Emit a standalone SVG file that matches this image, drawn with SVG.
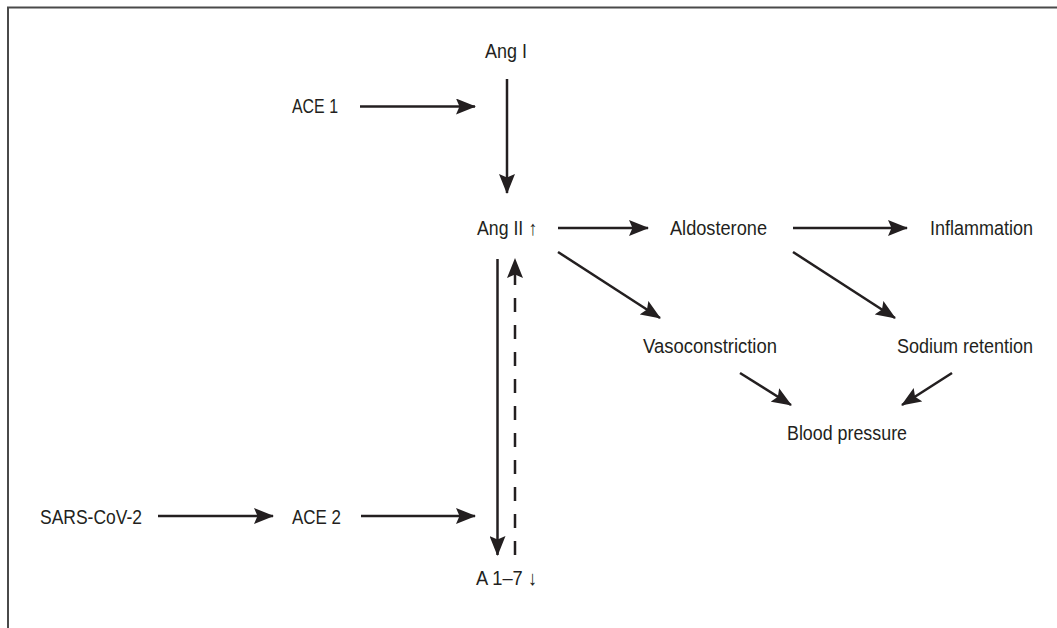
<svg xmlns="http://www.w3.org/2000/svg" width="1057" height="628" viewBox="0 0 1057 628">
  <defs>
    <marker id="ah" markerUnits="userSpaceOnUse" markerWidth="20" markerHeight="16" viewBox="0 0 20 16" refX="19" refY="8" orient="auto">
      <path d="M0,0 L20,8 L0,16 L3.5,8 Z" fill="#231f20"/>
    </marker>
    <style>
      .lbl { font-family: "Liberation Sans", Arial, sans-serif; font-size: 20.5px; fill: #231f20; }
      .cn { stroke: #231f20; stroke-width: 2.5; fill: none; marker-end: url(#ah); }
      .dash { stroke-dasharray: 14 13; }
      .frame { stroke: #4a4a4a; stroke-width: 2; fill: none; }
    </style>
  </defs>
  <rect width="1057" height="628" fill="#ffffff"/>
  <path class="frame" d="M8,628 L8,7.5 L1057,7.5"/>

  <g id="connectors">
    <line class="cn" x1="360" y1="106.5" x2="475" y2="106.5"/>
    <line class="cn" x1="507" y1="79" x2="507" y2="193"/>
    <line class="cn" x1="558" y1="228" x2="648" y2="228"/>
    <line class="cn" x1="793" y1="228" x2="907" y2="228"/>
    <line class="cn" x1="558" y1="252" x2="660" y2="318"/>
    <line class="cn" x1="793" y1="252" x2="895" y2="318"/>
    <line class="cn" x1="740" y1="373" x2="791" y2="405"/>
    <line class="cn" x1="952" y1="373" x2="902" y2="405"/>
    <line class="cn" x1="158" y1="516" x2="273" y2="516"/>
    <line class="cn" x1="361" y1="516" x2="475" y2="516"/>
    <line class="cn" x1="497.5" y1="259" x2="497.5" y2="555"/>
    <line class="cn dash" x1="515" y1="555" x2="515" y2="259"/>
  </g>

  <g id="node-angI"><text class="lbl" x="485" y="58" textLength="42" lengthAdjust="spacingAndGlyphs">Ang I</text></g>
  <g id="node-ace1"><text class="lbl" x="292" y="113" textLength="46" lengthAdjust="spacingAndGlyphs">ACE 1</text></g>
  <g id="node-angII"><text class="lbl" x="477" y="235" textLength="60" lengthAdjust="spacingAndGlyphs">Ang II ↑</text></g>
  <g id="node-aldosterone"><text class="lbl" x="670" y="235" textLength="97" lengthAdjust="spacingAndGlyphs">Aldosterone</text></g>
  <g id="node-inflammation"><text class="lbl" x="930" y="235" textLength="103" lengthAdjust="spacingAndGlyphs">Inflammation</text></g>
  <g id="node-vasoconstriction"><text class="lbl" x="643" y="353" textLength="134" lengthAdjust="spacingAndGlyphs">Vasoconstriction</text></g>
  <g id="node-sodium"><text class="lbl" x="897" y="353" textLength="136" lengthAdjust="spacingAndGlyphs">Sodium retention</text></g>
  <g id="node-bp"><text class="lbl" x="787" y="440" textLength="120" lengthAdjust="spacingAndGlyphs">Blood pressure</text></g>
  <g id="node-sars"><text class="lbl" x="40" y="524" textLength="102" lengthAdjust="spacingAndGlyphs">SARS-CoV-2</text></g>
  <g id="node-ace2"><text class="lbl" x="292" y="524" textLength="49" lengthAdjust="spacingAndGlyphs">ACE 2</text></g>
  <g id="node-a17"><text class="lbl" x="476" y="585" textLength="61" lengthAdjust="spacingAndGlyphs">A 1–7 ↓</text></g>
</svg>
